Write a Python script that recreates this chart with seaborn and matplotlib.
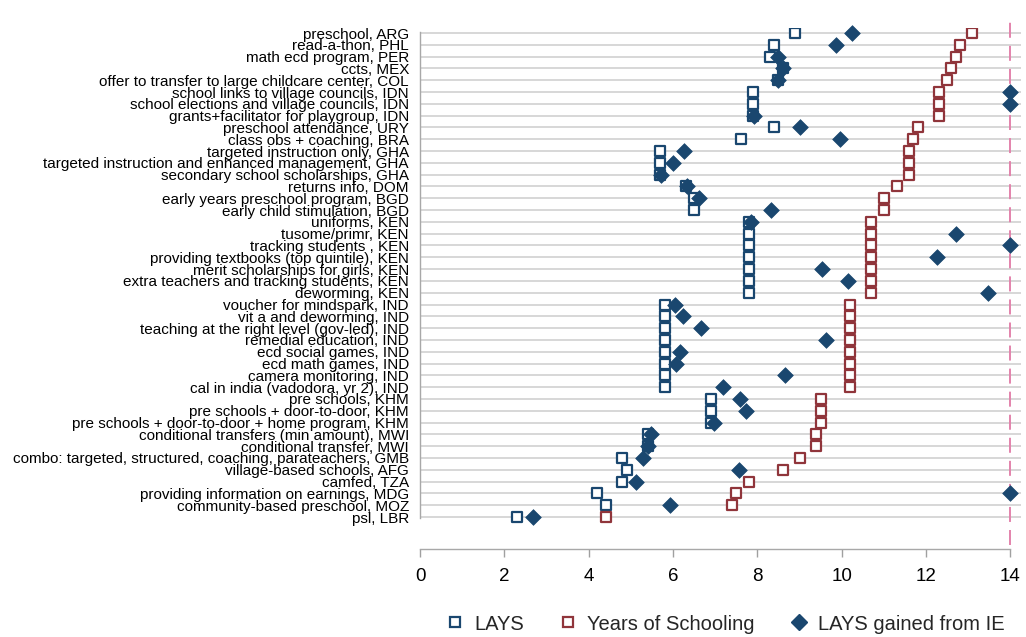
import matplotlib
matplotlib.use("Agg")
import matplotlib.pyplot as plt
from matplotlib.lines import Line2D
import seaborn as sns
import pandas as pd

labels = [
    "preschool, ARG", "read-a-thon, PHL", "math ecd program, PER", "ccts, MEX",
    "offer to transfer to large childcare center, COL",
    "school links to village councils, IDN", "school elections and village councils, IDN",
    "grants+facilitator for playgroup, IDN", "preschool attendance, URY",
    "class obs + coaching, BRA", "targeted instruction only, GHA",
    "targeted instruction and enhanced management, GHA",
    "secondary school scholarships, GHA", "returns info, DOM",
    "early years preschool program, BGD", "early child stimulation, BGD",
    "uniforms, KEN", "tusome/primr, KEN", "tracking students , KEN",
    "providing textbooks (top quintile), KEN", "merit scholarships for girls, KEN",
    "extra teachers and tracking students, KEN", "deworming, KEN",
    "voucher for mindspark, IND", "vit a and deworming, IND",
    "teaching at the right level (gov-led), IND", "remedial education, IND",
    "ecd social games, IND", "ecd math games, IND", "camera monitoring, IND",
    "cal in india (vadodora, yr 2), IND", "pre schools, KHM",
    "pre schools + door-to-door, KHM", "pre schools + door-to-door + home program, KHM",
    "conditional transfers (min amount), MWI", "conditional transfer, MWI",
    "combo: targeted, structured, coaching, parateachers, GMB",
    "village-based schools, AFG", "camfed, TZA",
    "providing information on earnings, MDG", "community-based preschool, MOZ",
    "psl, LBR",
]

lays = [8.9, 8.4, 8.3, 8.6, 8.5, 7.9, 7.9, 7.9, 8.4, 7.6, 5.7, 5.7, 5.7, 6.3,
        6.5, 6.5, 7.8, 7.8, 7.8, 7.8, 7.8, 7.8, 7.8,
        5.8, 5.8, 5.8, 5.8, 5.8, 5.8, 5.8, 5.8,
        6.9, 6.9, 6.9, 5.4, 5.4, 4.8, 4.9, 4.8, 4.2, 4.4, 2.3]

years = [13.1, 12.8, 12.7, 12.6, 12.5, 12.3, 12.3, 12.3, 11.8, 11.7, 11.6, 11.6, 11.6, 11.3,
         11.0, 11.0, 10.7, 10.7, 10.7, 10.7, 10.7, 10.7, 10.7,
         10.2, 10.2, 10.2, 10.2, 10.2, 10.2, 10.2, 10.2,
         9.5, 9.5, 9.5, 9.4, 9.4, 9.0, 8.6, 7.8, 7.5, 7.4, 4.4]

gained = [10.25, 9.87, 8.5, 8.6, 8.49, 14.0, 14.0, 7.92, 9.0, 9.97, 6.26, 6.01, 5.72, 6.32,
          6.62, 8.32, 7.85, 12.7, 14.0, 12.25, 9.53, 10.15, 13.47,
          6.05, 6.24, 6.66, 9.62, 6.17, 6.07, 8.65, 7.19,
          7.59, 7.72, 6.97, 5.47, 5.41, 5.29, 7.56, 5.12, 14.0, 5.93, 2.67]

xticks = [0, 2, 4, 6, 8, 10, 12, 14]

df = pd.DataFrame({"label": labels, "pos": range(len(labels)),
                   "lays": lays, "years": years, "gained": gained})

navy = "#1a476f"
maroon = "#90353b"
pink = "#e383ac"

sns.set_theme(style="white")
plt.rcParams["font.family"] = ["Liberation Sans", "DejaVu Sans"]

fig = plt.figure(figsize=(10.26, 6.37), dpi=100)
ax = fig.add_axes([420 / 1026, 1 - 549 / 637, (1021 - 420) / 1026, (549 - 28) / 637])

n = len(labels)
row_px = (517 - 33) / (n - 1)
top = -5 / row_px
bottom = (n - 1) + 32 / row_px
ax.set_ylim(bottom, top)
ax.set_xlim(0, 14.25)

for i in range(n):
    ax.axhline(i, color="#d4d4d4", lw=1.3, zorder=0)

lw_dash = 1.4
ax.axvline(14, ymin=(549 - 545) / (549 - 28), ymax=(549 - 16) / (549 - 28), color=pink,
           lw=lw_dash, ls=(0, (10.8 / lw_dash, 5.8 / lw_dash)), clip_on=False, zorder=1)

sns.scatterplot(data=df, x="lays", y="pos", marker="s", s=42, facecolor="white",
                edgecolor=navy, linewidth=1.6, ax=ax, zorder=3, legend=False)
sns.scatterplot(data=df, x="years", y="pos", marker="s", s=42, facecolor="white",
                edgecolor=maroon, linewidth=1.6, ax=ax, zorder=3, legend=False)
sns.scatterplot(data=df, x="gained", y="pos", marker="D", s=64, color=navy,
                edgecolor=navy, linewidth=0.5, ax=ax, zorder=4, legend=False, clip_on=False)

ax.set_yticks(range(n))
ax.set_yticklabels(labels, fontsize=11)
ax.tick_params(axis="y", length=0, pad=8, colors="black")
ax.set_xticks(xticks)
ax.set_xticklabels([str(t) for t in xticks], fontsize=13.5)
ax.tick_params(axis="x", length=6, width=1, color="#a0a0a0", pad=8, labelcolor="black",
               bottom=True)
ax.set_xlabel("")
ax.set_ylabel("")

for s in ["top", "right"]:
    ax.spines[s].set_visible(False)
ax.spines["left"].set_color("#a8a8a8")
ax.spines["left"].set_linewidth(1.0)
ax.spines["left"].set_bounds(n - 1 + 0.1, -0.1)
ax.spines["bottom"].set_color("#a8a8a8")
ax.spines["bottom"].set_linewidth(1.0)
ax.spines["bottom"].set_bounds(0, 14)

handles = [
    Line2D([], [], marker="s", ls="", markersize=6.5, markerfacecolor="white",
           markeredgecolor=navy, markeredgewidth=1.6, label="LAYS"),
    Line2D([], [], marker="s", ls="", markersize=6.5, markerfacecolor="white",
           markeredgecolor=maroon, markeredgewidth=1.6, label="Years of Schooling"),
    Line2D([], [], marker="D", ls="", markersize=8, markerfacecolor=navy,
           markeredgecolor=navy, label="LAYS gained from IE"),
]
fig.legend(handles=handles, loc="center", bbox_to_anchor=(725 / 1026, 1 - 624 / 637),
           ncol=3, frameon=False, fontsize=14.5, handletextpad=0.45, columnspacing=1.7,
           handlelength=1.0, borderpad=0.0)

fig.savefig("out.png", dpi=100)
